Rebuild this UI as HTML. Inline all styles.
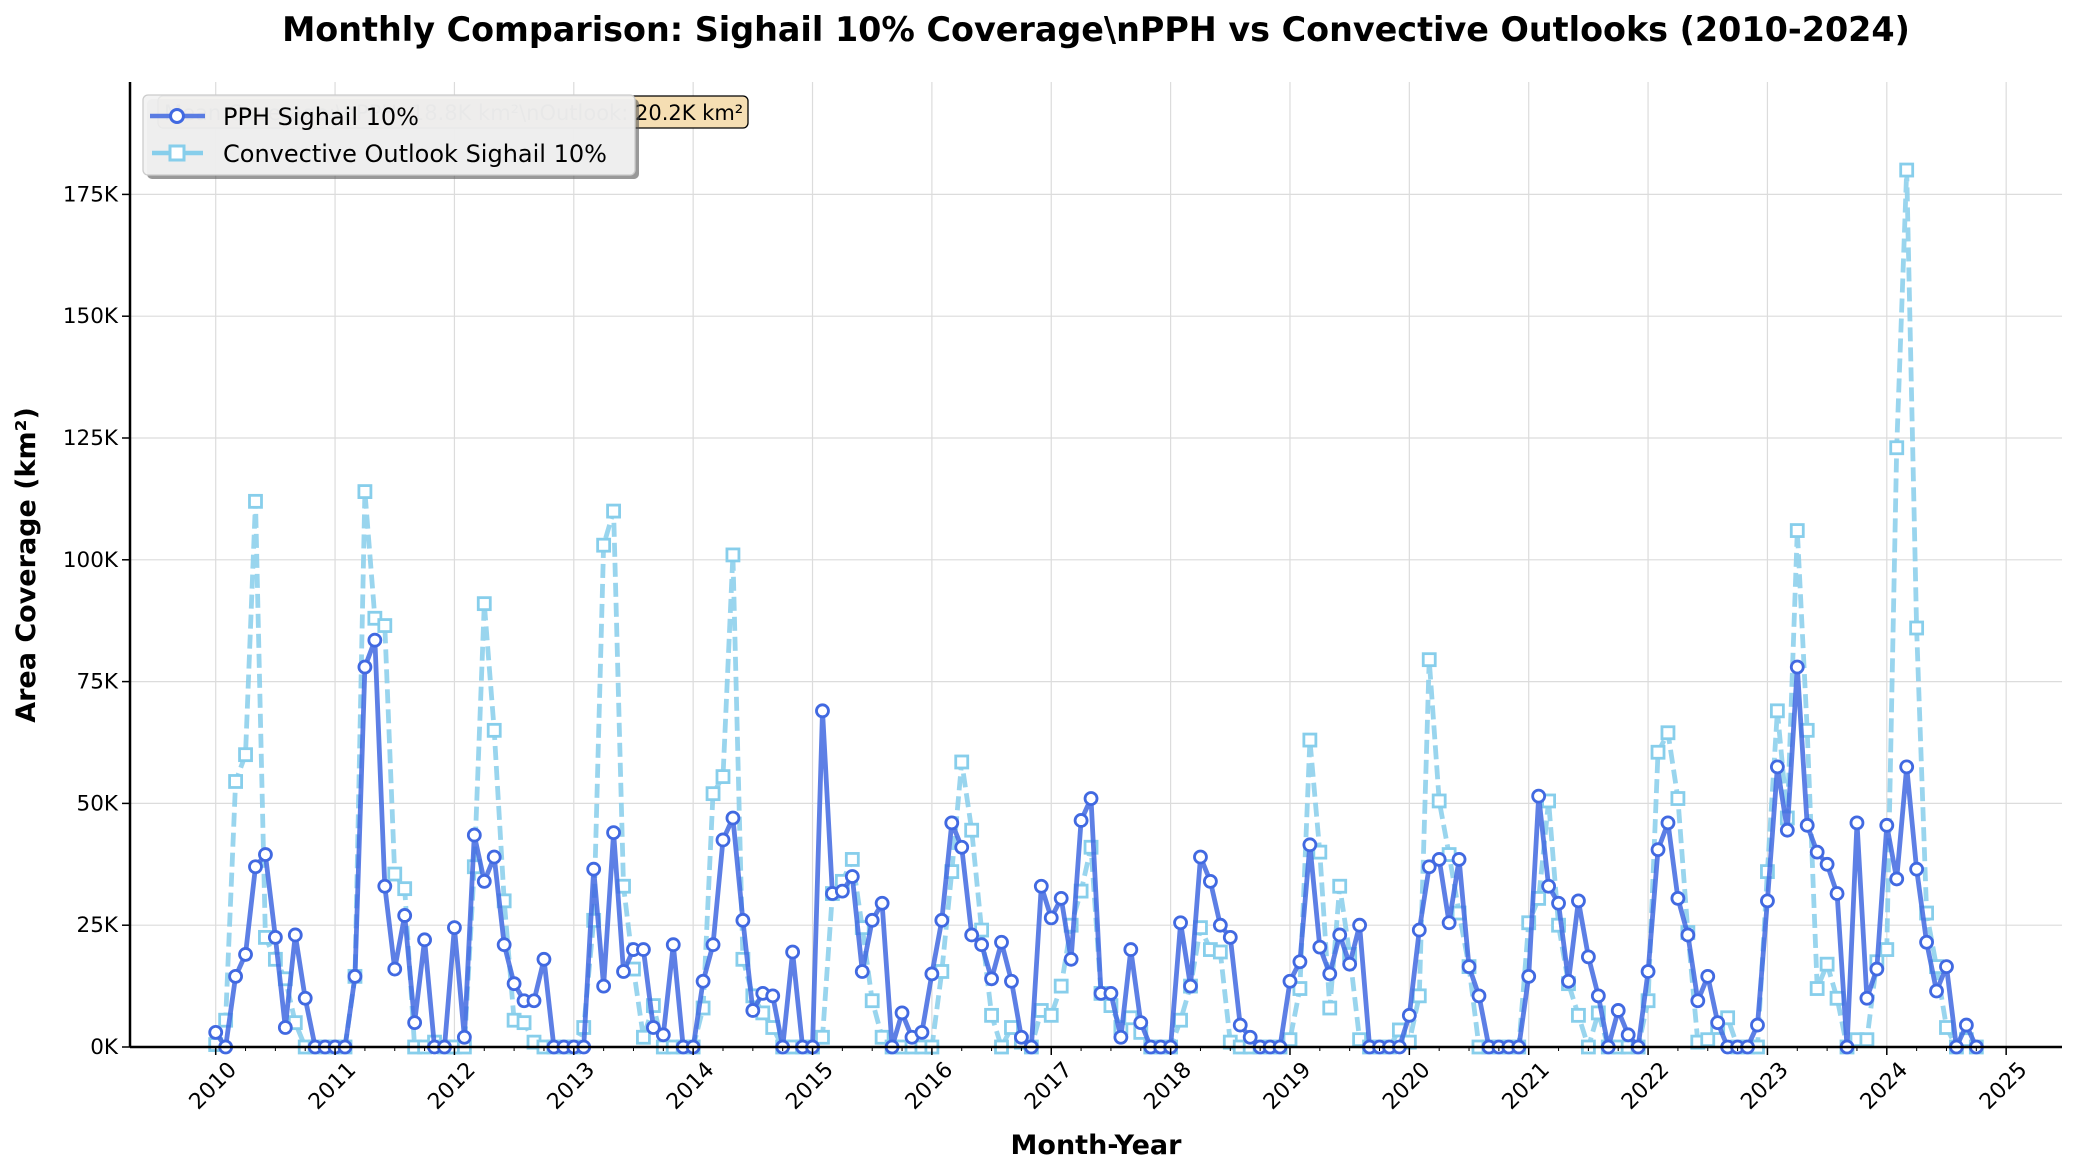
<!DOCTYPE html>
<html><head><meta charset="utf-8">
<style>
html,body{margin:0;padding:0;background:#fff;}
svg{display:block;font-family:"DejaVu Sans","Liberation Sans",sans-serif;}
</style></head>
<body>
<svg id="chart" width="2075" height="1175" viewBox="0 0 2075 1175" xmlns="http://www.w3.org/2000/svg">
<text x="1096" y="41" text-anchor="middle" font-size="33.4" font-weight="bold">Monthly Comparison: Sighail 10% Coverage\nPPH vs Convective Outlooks (2010-2024)</text>
<g id="grid"></g>
<g id="series"></g>
<g id="axes"></g>
<text x="1096" y="1154" text-anchor="middle" font-size="27" font-weight="bold">Month-Year</text>
<text transform="translate(35,565) rotate(-90)" text-anchor="middle" font-size="27" font-weight="bold">Area Coverage (km²)</text>
<g>
<rect x="158" y="96" width="590" height="32" rx="5" fill="#f5deb3" stroke="#000" stroke-width="1.3"/>
<text x="164" y="120" font-size="21">Mean Coverage:\nPPH: 18.8K km²\nOutlook: 20.2K km²</text>
</g>
<g>
<rect x="147" y="99" width="492" height="80" rx="5" fill="#555" opacity="0.6"/>
<rect x="143" y="95" width="492" height="80" rx="5" fill="#f2f2f2" fill-opacity="0.95" stroke="#ccc" stroke-width="1.3"/>
<g>
<line x1="150" y1="116" x2="205" y2="116" stroke="#4169E1" stroke-width="4.5" opacity="0.85"/>
<circle cx="177" cy="116" r="6.5" fill="#fff" stroke="#4169E1" stroke-width="3"/>
<text x="223" y="125" font-size="24">PPH Sighail 10%</text>
</g>
<g>
<line x1="152" y1="153" x2="203" y2="153" stroke="#87CEEB" stroke-width="4.5"/>
<rect x="170" y="146" width="14" height="14" fill="#fff" stroke="#87CEEB" stroke-width="3"/>
<text x="223" y="162" font-size="24">Convective Outlook Sighail 10%</text>
</g>
</g>
</svg>
<script>
const years = ["2010","2011","2012","2013","2014","2015","2016","2017","2018","2019","2020","2021","2022","2023","2024","2025"];
const yTicks = [0,25,50,75,100,125,150,175];
const pphValues = [
3,0,14.5,19,37,39.5,22.5,4,23,10,0,0,
0,0,14.5,78,83.5,33,16,27,5,22,0,0,
24.5,2,43.5,34,39,21,13,9.5,9.5,18,0,0,
0,0,36.5,12.5,44,15.5,20,20,4,2.5,21,0,
0,13.5,21,42.5,47,26,7.5,11,10.5,0,19.5,0,
0,69,31.5,32,35,15.5,26,29.5,0,7,2,3,
15,26,46,41,23,21,14,21.5,13.5,2,0,33,
26.5,30.5,18,46.5,51,11,11,2,20,5,0,0,
0,25.5,12.5,39,34,25,22.5,4.5,2,0,0,0,
13.5,17.5,41.5,20.5,15,23,17,25,0,0,0,0,
6.5,24,37,38.5,25.5,38.5,16.5,10.5,0,0,0,0,
14.5,51.5,33,29.5,13.5,30,18.5,10.5,0,7.5,2.5,0,
15.5,40.5,46,30.5,23,9.5,14.5,5,0,0,0,4.5,
30,57.5,44.5,78,45.5,40,37.5,31.5,0,46,10,16,
45.5,34.5,57.5,36.5,21.5,11.5,16.5,0,4.5,0];
const outlookValues = [
0.5,5.5,54.5,60,112,22.5,18,14,5,0,0,0,
0,0,14.5,114,88,86.5,35.5,32.5,0,0,1,0,
0,0,37,91,65,30,5.5,5,1,0,0,0,
0,4,26,103,110,33,16,2,8.5,0,0,0,
0,8,52,55.5,101,18,10.5,7,4,0,0,0,
0,2,31.5,34,38.5,24.5,9.5,2,0,0,0,0,
0,15.5,36,58.5,44.5,24,6.5,0,4,1,0,7.5,
6.5,12.5,25,32,41,11,8.5,4,6,3,0,0,
0,5.5,12.5,24.5,20,19.5,1,0,0,0,0,0,
1.5,12,63,40,8,33,19,1.5,0,0,0,3.5,
1,10.5,79.5,50.5,39.5,27.5,16.5,0,0,0,0,0,
25.5,30.5,50.5,25,13,6.5,0,7,0,0,0,0,
9.5,60.5,64.5,51,23.5,1,1.5,4,6,0,0,0,
36,69,47,106,65,12,17,10,0,1.5,1.5,17.5,
20,123,180,86,27.5,16.5,4,0,1.5,0];

const NS="http://www.w3.org/2000/svg";
const X0=215.7, MSTEP=9.947, PLOT_L=130, PLOT_R=2062, PLOT_T=82, PLOT_B=1047;
function xScale(i){return X0+i*MSTEP;}
function yScale(v){return PLOT_B - v/25*121.8;}
function mk(tag,attrs,parent){const e=document.createElementNS(NS,tag);for(const k in attrs)e.setAttribute(k,attrs[k]);parent.appendChild(e);return e;}
const grid=document.getElementById('grid'), axes=document.getElementById('axes'), series=document.getElementById('series');

years.forEach((y,k)=>{
  const x=xScale(k*12);
  const gl=mk('line',{x1:x,x2:x,y1:PLOT_T,y2:PLOT_B,stroke:'#dcdcdc','stroke-width':1.2},grid);
  
  
  const tk=mk('line',{x1:x,x2:x,y1:PLOT_B,y2:PLOT_B+8,stroke:'#000','stroke-width':1.5},axes);
  
  
  const lx=x+22, ly=PLOT_B+24;
  const t=mk('text',{x:lx,y:ly,'font-size':22,'text-anchor':'end',transform:`rotate(-45 ${lx} ${ly})`},axes);
  
  
  t.textContent=y;
});
for(let m=0;m<=180;m+=3){
  if(m%12===0)continue;
  const x=xScale(m);
  const mt=mk('line',{x1:x,x2:x,y1:PLOT_B,y2:PLOT_B+4,stroke:'#000','stroke-width':1},axes);
  
  
}
yTicks.forEach(v=>{
  const y=yScale(v);
  const gl=mk('line',{x1:PLOT_L,x2:PLOT_R,y1:y,y2:y,stroke:'#dcdcdc','stroke-width':1.2},grid);
  
  
  const tk=mk('line',{x1:PLOT_L-8,x2:PLOT_L,y1:y,y2:y,stroke:'#000','stroke-width':1.5},axes);
  
  
  const t=mk('text',{x:PLOT_L-12,y:y+7,'font-size':21.5,'text-anchor':'end'},axes);
  
  
  t.textContent=v+'K';
});
const sl=mk('line',{x1:PLOT_L,x2:PLOT_L,y1:PLOT_T,y2:PLOT_B,stroke:'#000','stroke-width':2.5},axes);


const sb=mk('line',{x1:PLOT_L,x2:PLOT_R,y1:PLOT_B,y2:PLOT_B,stroke:'#000','stroke-width':2.5},axes);



function drawSeries(vals,color,dash,marker,name){
  const g=mk('g',{},series);
  
  
  const pts=vals.map((v,i)=>xScale(i).toFixed(1)+','+yScale(v).toFixed(1)).join(' ');
  const attrs={points:pts,fill:'none',stroke:color,'stroke-width':4.8,'stroke-linejoin':'round',opacity:0.85};
  if(dash)attrs['stroke-dasharray']=dash;
  const pl=mk('polyline',attrs,g);
  
  
  vals.forEach((v,i)=>{
    const x=xScale(i), y=yScale(v);
    let m;
    if(marker==='circle') m=mk('circle',{cx:x,cy:y,r:6,fill:'#fff',stroke:color,'stroke-width':2.8},g);
    else m=mk('rect',{x:x-6,y:y-6,width:12,height:12,fill:'#fff',stroke:color,'stroke-width':2.8},g);
    
    
  });
}
drawSeries(outlookValues,'#87CEEB','14 6','square','outlook');
drawSeries(pphValues,'#4169E1',null,'circle','pph');
</script>
</body></html>
